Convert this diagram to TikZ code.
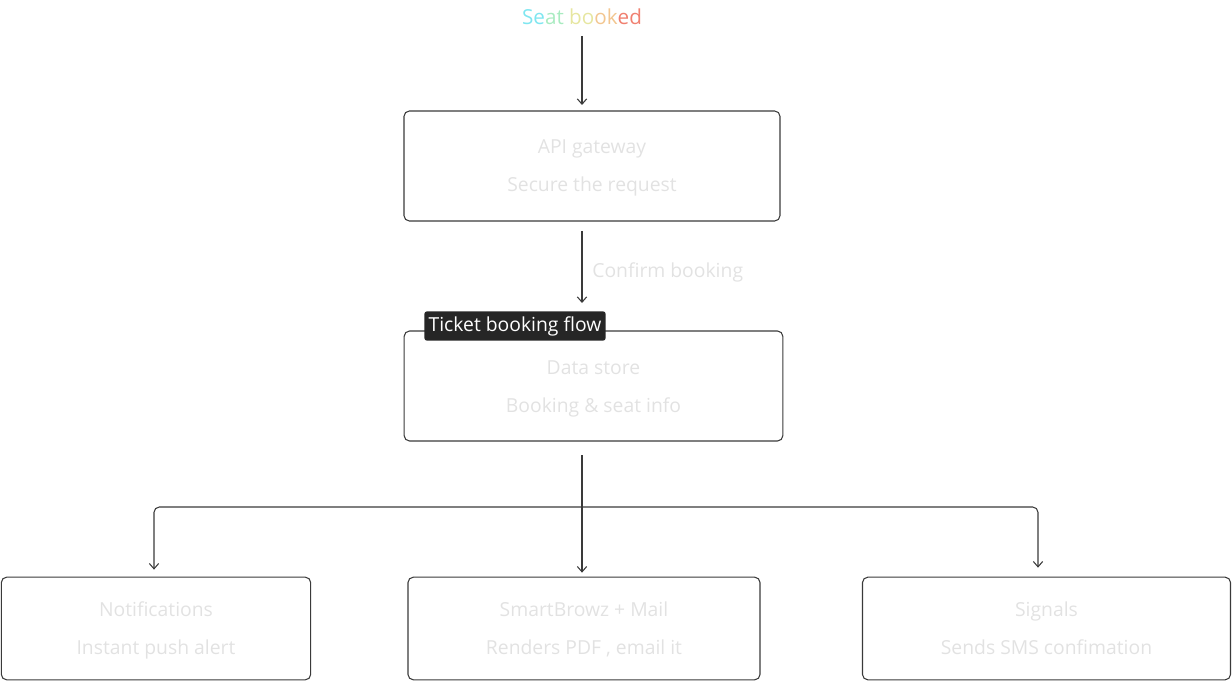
\documentclass[tikz,border=0pt]{standalone}
\usepackage{fontspec}
\setmainfont{Open Sans}
\usetikzlibrary{positioning,calc,arrows.meta}
\definecolor{edge}{HTML}{3A3A3A}
\definecolor{faint}{HTML}{E2E2E2}
\definecolor{tagbg}{HTML}{262626}
\tikzset{
    every node/.style={font=\fontsize{14.5}{17}\selectfont},
    block/.style={draw=edge, thick, rounded corners=4pt, align=center, inner sep=0pt},
    faintlabel/.style={text=faint, text height=10.5pt, text depth=3pt},
    arrow/.style={-{Straight Barb[length=4pt,width=7pt]}, thick, edge},
}
\begin{document}
\begin{tikzpicture}[x=0.75pt,y=-0.75pt]
   \useasboundingbox (0,0) rectangle (1232,688);
% source label
   \node (seat) at (582,17) {\fontsize{15.5}{18}\selectfont\textcolor[HTML]{7FE6F0}{Se}\textcolor[HTML]{A8EBC0}{at }\textcolor[HTML]{E6E6A0}{bo}\textcolor[HTML]{F2C690}{ok}\textcolor[HTML]{F08070}{ed}};
% boxes
   \node[block, minimum width=282pt, minimum height=82.5pt] (api) at (592,166) {};
   \node[faintlabel] at (592,149) {API gateway};
   \node[faintlabel] at (592,187) {Secure the request};
   \node[block, minimum width=284pt, minimum height=82.5pt] (store) at (593.5,386) {};
   \node[faintlabel] at (593.5,369) {Data store};
   \node[faintlabel] at (593.5,407) {Booking \& seat info};
   \node[block, minimum width=232pt, minimum height=77pt] (notif) at (156,628.5) {};
   \node[faintlabel] at (156,611) {Notifications};
   \node[faintlabel] at (156,649) {Instant push alert};
   \node[block, minimum width=264pt, minimum height=77pt] (mail) at (584,628.5) {};
   \node[faintlabel] at (584,611) {SmartBrowz + Mail};
   \node[faintlabel] at (584,649) {Renders PDF , email it};
   \node[block, minimum width=276pt, minimum height=77pt] (signals) at (1046.5,628.5) {};
   \node[faintlabel] at (1046.5,611) {Signals};
   \node[faintlabel] at (1046.5,649) {Sends SMS confimation};
% tag on the data store
   \node[fill=tagbg, text=white, rounded corners=2pt, minimum width=136pt, minimum height=22pt, inner sep=0pt] (tag) at (515,326) {Ticket booking flow};
% connectors
   \coordinate (seatout) at (582,36);
   \coordinate (apiin) at (582,105);
   \coordinate (apiout) at (582,231);
   \coordinate (storein) at (582,303);
   \coordinate (storeout) at (582,455);
   \coordinate (split) at (582,507);
   \draw[arrow] (seatout) -- (apiin);
   \draw[arrow] (apiout) -- node[right=4pt, faintlabel, yshift=-4pt] {Confirm booking} (storein);
   \draw[thick, edge] (storeout) -- (split);
   \draw[arrow, rounded corners=4pt] (split) -| ($(notif.north)+(-2,-7)$);
   \draw[arrow, rounded corners=4pt] (split) -| ($(signals.north)+(-8.5,-9)$);
   \draw[arrow] (split) -- ($(mail.north)+(-2,-4)$);
\end{tikzpicture}
\end{document}
